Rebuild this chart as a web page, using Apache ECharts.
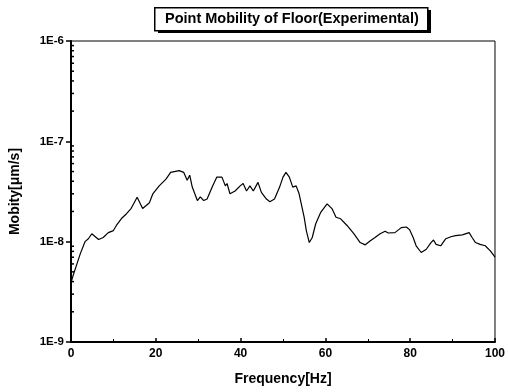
<!DOCTYPE html>
<html>
<head>
<meta charset="utf-8">
<script src="https://cdn.jsdelivr.net/npm/echarts@6/dist/echarts.min.js"></script>
<style>
  html, body { margin: 0; padding: 0; background: #fff; }
  #main { width: 508px; height: 392px; }
</style>
</head>
<body>
<div id="main"></div>
<script>
// frequency [Hz]
var freq = [0, 0.5, 1.4, 2.2, 3.3, 4.1, 4.9, 6.5, 7.6, 8.8, 10.0, 10.7, 11.9, 13.1, 14.2,
  15.6, 16.9, 18.5, 19.3, 20.8, 22.4, 23.5, 25.5, 26.6, 27.4, 28.0, 28.6, 29.8, 30.5,
  31.3, 32.1, 33.3, 34.4, 35.6, 36.4, 36.8, 37.5, 38.7, 39.9, 40.6, 41.4, 42.2, 43.0,
  44.1, 44.9, 46.1, 46.9, 48.0, 49.2, 50.0, 50.7, 51.5, 52.3, 53.1, 53.8, 55.0, 55.5,
  56.2, 56.9, 57.7, 58.9, 60.4, 61.6, 62.5, 63.6, 65.1, 66.7, 68.2, 69.4, 70.6, 71.7,
  72.9, 74.1, 74.8, 76.4, 77.9, 79.1, 79.9, 80.7, 81.4, 82.6, 83.8, 84.9, 85.5, 86.1,
  87.2, 88.4, 89.6, 90.7, 92.3, 93.9, 94.6, 95.4, 96.5, 97.7, 98.9, 99.8, 100];
// mobility [m/s] at each frequency
var mobility = [3.9e-9, 4.6e-9, 6.0e-9, 7.6e-9, 1.0e-8, 1.07e-8, 1.2e-8, 1.05e-8, 1.1e-8,
  1.23e-8, 1.29e-8, 1.45e-8, 1.7e-8, 1.9e-8, 2.15e-8, 2.77e-8, 2.14e-8, 2.44e-8, 3.0e-8,
  3.6e-8, 4.2e-8, 4.9e-8, 5.1e-8, 4.9e-8, 4.1e-8, 4.6e-8, 3.5e-8, 2.57e-8, 2.8e-8,
  2.57e-8, 2.66e-8, 3.5e-8, 4.4e-8, 4.4e-8, 3.6e-8, 3.8e-8, 3.0e-8, 3.2e-8, 3.6e-8,
  3.8e-8, 3.2e-8, 3.6e-8, 3.2e-8, 3.9e-8, 3.1e-8, 2.66e-8, 2.5e-8, 2.66e-8, 3.5e-8,
  4.4e-8, 4.9e-8, 4.4e-8, 3.5e-8, 3.6e-8, 3.0e-8, 1.75e-8, 1.29e-8, 9.8e-9, 1.1e-8,
  1.5e-8, 1.96e-8, 2.38e-8, 2.12e-8, 1.75e-8, 1.69e-8, 1.45e-8, 1.2e-8, 9.8e-9, 9.3e-9,
  1.02e-8, 1.1e-8, 1.2e-8, 1.27e-8, 1.22e-8, 1.23e-8, 1.38e-8, 1.4e-8, 1.31e-8, 1.1e-8,
  9.1e-9, 7.8e-9, 8.4e-9, 9.8e-9, 1.04e-8, 9.4e-9, 9.1e-9, 1.07e-8, 1.12e-8, 1.15e-8,
  1.17e-8, 1.23e-8, 1.1e-8, 9.8e-9, 9.4e-9, 9.1e-9, 8.1e-9, 7.2e-9, 7.0e-9];

// log minor ticks (2..9 x each decade)
var decades = [1e-9, 1e-8, 1e-7];
var minorTicks = [];
decades.forEach(function (d) {
  for (var k = 2; k <= 9; k++) minorTicks.push(d * k);
});

var titleText = 'Point Mobility of Floor(Experimental)';
var font = '"Liberation Sans", Arial, sans-serif';
var myChart = echarts.init(document.getElementById('main'));

var points = freq.map(function (f, i) { return [f, mobility[i]]; });

var option = {
  animation: false,
  backgroundColor: '#fff',
  // title box with a solid drop shadow
  graphic: [
    { type: 'rect', left: 158, top: 10, shape: { width: 273, height: 23 }, style: { fill: '#000' }, z: 10 },
    { type: 'rect', left: 154, top: 7, shape: { width: 273, height: 23 }, style: { fill: '#fff', stroke: '#000', lineWidth: 1.5 }, z: 11 },
    {
      type: 'text', left: 165, top: 11, z: 12,
      style: { text: titleText, font: 'bold 14.5px ' + font, fill: '#000' }
    }
  ],
  grid: {
    left: 69, right: 10, top: 41, bottom: 50,
    show: true, borderColor: '#000', borderWidth: 1
  },
  xAxis: {
    type: 'value',
    min: 0, max: 100, interval: 20,
    name: 'Frequency[Hz]',
    nameLocation: 'middle',
    nameGap: 30,
    nameTextStyle: { fontFamily: font, fontSize: 14, fontWeight: 'bold', color: '#000' },
    axisLine: { lineStyle: { color: '#000', width: 2 } },
    axisTick: { inside: true, length: 4, lineStyle: { color: '#000', width: 1.5 } },
    minorTick: { show: true, splitNumber: 2, length: 3, lineStyle: { color: '#000' } },
    splitLine: { show: false },
    axisLabel: { fontFamily: font, fontSize: 12, fontWeight: 'bold', color: '#000', margin: 6 }
  },
  yAxis: {
    type: 'log',
    logBase: 10,
    min: 1e-9, max: 1e-6,
    name: 'Mobity[\u03bcm/s]',
    nameLocation: 'middle',
    nameGap: 49,
    nameTextStyle: { fontFamily: font, fontSize: 14, fontWeight: 'bold', color: '#000' },
    axisLine: { lineStyle: { color: '#000', width: 2 } },
    axisTick: { length: 5, lineStyle: { color: '#000', width: 1.5 } },
    splitLine: { show: false },
    axisLabel: {
      fontFamily: font, fontSize: 11.5, fontWeight: 'bold', color: '#000', margin: 7,
      formatter: function (v) { return '1E' + Math.round(Math.log10(v)); }
    }
  },
  series: [
    {
      type: 'line',
      data: points,
      showSymbol: false,
      lineStyle: { color: '#000', width: 1.2 },
      silent: true
    },
    {
      // inward minor ticks on the left axis
      type: 'custom',
      silent: true,
      data: minorTicks.map(function (v) { return [0, v]; }),
      renderItem: function (params, api) {
        var p = api.coord([api.value(0), api.value(1)]);
        return {
          type: 'line',
          shape: { x1: p[0], y1: p[1], x2: p[0] + 3, y2: p[1] },
          style: { stroke: '#000', lineWidth: 1.5 }
        };
      }
    }
  ]
};

myChart.setOption(option);
</script>
</body>
</html>
